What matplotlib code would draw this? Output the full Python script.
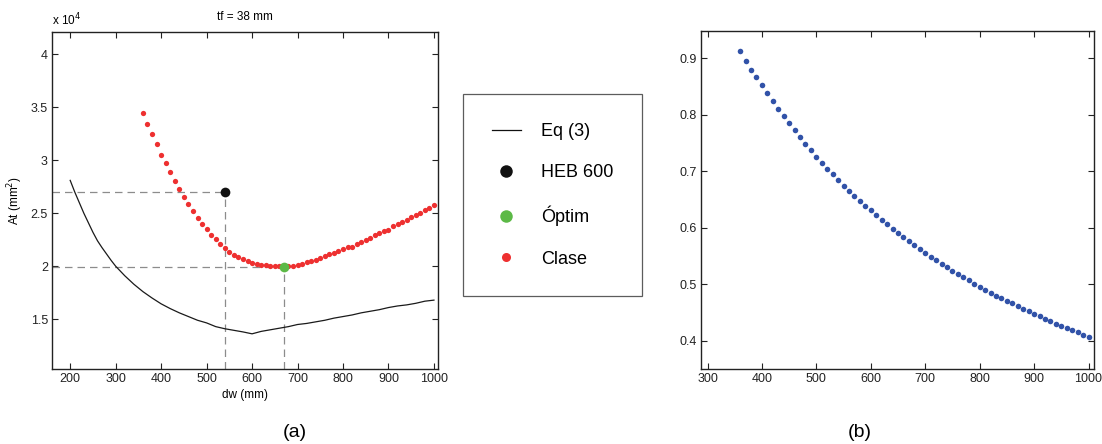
import matplotlib
matplotlib.use("Agg")
import matplotlib.pyplot as plt
from matplotlib.lines import Line2D
from matplotlib.ticker import FuncFormatter

plt.rcParams['font.family'] = ['Liberation Sans', 'DejaVu Sans']

# (a) At (mm2) against dw (mm), tf = 38 mm
dw_clase = list(range(360, 1001, 10))
at_clase = [34460, 33410, 32470, 31560, 30520, 29700, 28860, 28000, 27280, 26530,
            25870, 25230, 24570, 24000, 23470, 22900, 22530, 22060, 21680, 21300,
            21080, 20830, 20640, 20480, 20320, 20230, 20140, 20110, 20050, 20050,
            20000, 19970, 20000, 20000, 20100, 20200, 20400, 20500, 20550, 20800,
            20950, 21140, 21230, 21450, 21610, 21770, 21860, 22050, 22330, 22520,
            22700, 22900, 23100, 23280, 23430, 23800, 24000, 24200, 24380, 24650,
            24850, 25000, 25300, 25500, 25800]

dw_eq3 = [200, 210, 220, 230, 240, 250, 260, 270, 280, 290, 300, 320, 340, 360,
          380, 400, 420, 440, 460, 480, 500, 520, 540, 560, 580, 600, 620, 640,
          660, 680, 700, 720, 740, 760, 780, 800, 820, 840, 860, 880, 900, 920,
          940, 960, 980, 1000]
at_eq3 = [28100, 27000, 26000, 25000, 24100, 23200, 22400, 21750, 21150, 20550,
          20000, 19100, 18300, 17600, 17000, 16450, 16000, 15600, 15250, 14900,
          14650, 14300, 14100, 13950, 13800, 13620, 13850, 14000, 14150, 14300,
          14500, 14600, 14750, 14900, 15100, 15250, 15400, 15600, 15750, 15900,
          16100, 16250, 16350, 16500, 16700, 16800]

heb_dw, heb_at = 540, 27000
opt_dw, opt_at = 670, 19970

# (b)
dw_b = list(range(360, 1001, 10))
val_b = [0.912, 0.896, 0.880, 0.866, 0.852, 0.838, 0.824, 0.810, 0.797, 0.785,
         0.773, 0.761, 0.748, 0.738, 0.725, 0.715, 0.704, 0.695, 0.685, 0.674,
         0.665, 0.657, 0.648, 0.639, 0.631, 0.622, 0.613, 0.606, 0.597, 0.590,
         0.583, 0.576, 0.570, 0.562, 0.555, 0.548, 0.543, 0.535, 0.530, 0.524,
         0.518, 0.513, 0.507, 0.500, 0.495, 0.490, 0.485, 0.479, 0.476, 0.471,
         0.466, 0.462, 0.456, 0.452, 0.448, 0.443, 0.439, 0.435, 0.430, 0.426,
         0.423, 0.419, 0.415, 0.411, 0.407]

RED = '#ee3030'
GREEN = '#5cb946'
BLUE = '#3152a8'
GREY = '#8c8c8c'


def style_axes(ax):
    ax.tick_params(direction='in', length=4, width=0.8, top=True, right=True,
                   labelsize=9, colors='#222222', pad=3)
    for s in ax.spines.values():
        s.set_linewidth(1.0)
        s.set_color('#222222')


fig = plt.figure(figsize=(11.02, 4.44), dpi=100)

ax1 = fig.add_axes([0.0472, 0.1689, 0.3503, 0.759])
xmin1, xmax1 = 160, 1009
ymin1 = 10300
ax1.set_xlim(xmin1, xmax1)
ax1.set_ylim(ymin1, 42100)

dash = dict(color=GREY, lw=0.9, dashes=(6, 4))
ax1.plot([xmin1, heb_dw], [heb_at, heb_at], **dash)
ax1.plot([heb_dw, heb_dw], [ymin1, heb_at], **dash)
ax1.plot([xmin1, opt_dw], [opt_at, opt_at], **dash)
ax1.plot([opt_dw, opt_dw], [ymin1, opt_at], **dash)

ax1.plot(dw_eq3, at_eq3, color='#1a1a1a', lw=0.9)
ax1.plot(dw_clase, at_clase, 'o', color=RED, ms=3.8, mec='none')
ax1.plot([heb_dw], [heb_at], 'o', color='#111111', ms=7, mec='none')
ax1.plot([opt_dw], [opt_at], 'o', color=GREEN, ms=7, mec='none')

ax1.set_xticks(range(200, 1001, 100))
ax1.set_yticks([15000, 20000, 25000, 30000, 35000, 40000])
ax1.yaxis.set_major_formatter(FuncFormatter(lambda v, p: f'{v / 1e4:g}'))
style_axes(ax1)
ax1.set_xlabel('dw (mm)', fontsize=8.5, labelpad=3)
ax1.set_ylabel('At (mm$^2$)', fontsize=8.5, labelpad=4)
ax1.set_title('tf = 38 mm', fontsize=8.5, pad=9)
ax1.text(0.0, 1.012, r'x 10$^4$', transform=ax1.transAxes, fontsize=8.5,
         ha='left', va='bottom')

handles = [
    Line2D([], [], color='#111111', lw=0.9),
    Line2D([], [], ls='none', marker='o', color='#111111', ms=9, mec='none'),
    Line2D([], [], ls='none', marker='o', color=GREEN, ms=9, mec='none'),
    Line2D([], [], ls='none', marker='o', color=RED, ms=6.5, mec='none'),
]
labels = ['Eq (3)', 'HEB 600', 'Óptim', 'Clase']
leg = fig.legend(handles, labels, loc='upper left',
                 bbox_to_anchor=(463 / 1102, 1 - 94 / 444), fontsize=13,
                 frameon=True, fancybox=False, borderpad=1.6, labelspacing=1.35,
                 handlelength=1.6, handletextpad=1.1, borderaxespad=0)
leg.get_frame().set_edgecolor('#333333')
leg.get_frame().set_linewidth(0.9)

ax2 = fig.add_axes([0.6361, 0.1689, 0.3566, 0.761])
ax2.set_xlim(288, 1010)
ax2.set_ylim(0.35, 0.948)
ax2.plot(dw_b, val_b, 'o', color=BLUE, ms=4.0, mec='none')
ax2.set_xticks(range(300, 1001, 100))
ax2.set_yticks([0.4, 0.5, 0.6, 0.7, 0.8, 0.9])
style_axes(ax2)

fig.text(295 / 1102, 1 - 432 / 444, '(a)', fontsize=14, ha='center', va='center')
fig.text(860 / 1102, 1 - 432 / 444, '(b)', fontsize=14, ha='center', va='center')

fig.savefig('out.png', dpi=100)
